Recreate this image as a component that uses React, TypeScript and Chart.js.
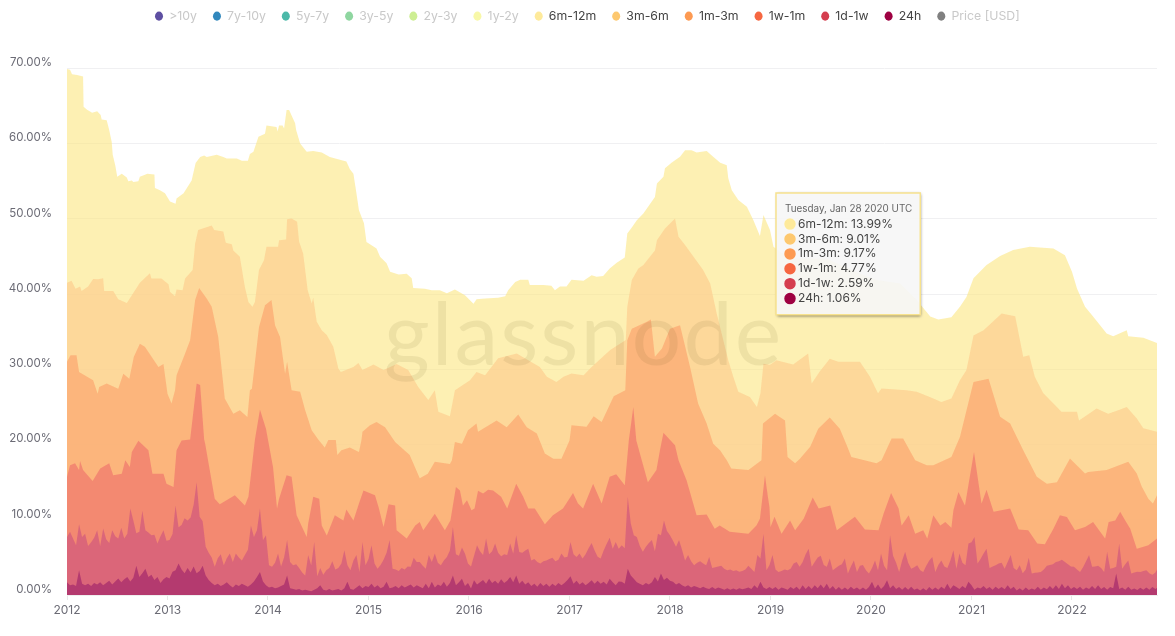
import React, { useEffect, useRef } from "react";
import { Chart, registerables, Tooltip } from "chart.js";

Chart.register(...registerables);

const FONT = "Inter, 'Noto Sans', sans-serif";

// Cumulative percentage of supply at the top of each band: [year, percent]
const top6m12m = [[2012,69.9],[2012.03,69.8],[2012.05,69.2],[2012.1,69.1],[2012.16,68.9],[2012.165,64.9],[2012.2,64.5],[2012.25,64.1],[2012.3,64.3],[2012.335,63.8],[2012.345,63.2],[2012.395,63.1],[2012.42,61.8],[2012.445,60.2],[2012.455,58.5],[2012.48,57.1],[2012.5,55.6],[2012.545,56],[2012.595,55.5],[2012.61,55],[2012.645,55.1],[2012.66,54.9],[2012.71,55],[2012.725,55.6],[2012.8,56],[2012.87,55.9],[2012.875,54.1],[2012.925,53.8],[2012.975,53.4],[2013.025,52.3],[2013.08,52],[2013.09,52.7],[2013.16,53.4],[2013.24,55.1],[2013.28,57.4],[2013.325,58.2],[2013.365,58.4],[2013.39,58.2],[2013.49,58.5],[2013.555,58.2],[2013.59,58],[2013.69,58],[2013.74,57.7],[2013.8,57.7],[2013.82,58.6],[2013.855,58.9],[2013.905,60.9],[2013.97,61.3],[2013.985,62.4],[2014.085,62.2],[2014.095,61.6],[2014.11,62.4],[2014.145,62.4],[2014.16,62],[2014.185,64.45],[2014.21,64.45],[2014.27,62.7],[2014.28,61.8],[2014.32,60],[2014.385,58.9],[2014.45,59],[2014.535,58.8],[2014.615,58.2],[2014.78,57.6],[2014.815,56.6],[2014.85,56],[2014.88,53.4],[2014.905,51.15],[2014.955,49.4],[2014.98,46.9],[2015.08,46.05],[2015.115,44.95],[2015.18,44.1],[2015.215,42.95],[2015.3,42.6],[2015.38,42.7],[2015.43,42.1],[2015.445,40.8],[2015.56,40.7],[2015.63,40.5],[2015.71,40.5],[2015.78,40.1],[2015.86,40.6],[2015.96,39.85],[2016.045,38.7],[2016.075,39.3],[2016.16,39.4],[2016.29,39.5],[2016.36,39.7],[2016.39,40.5],[2016.46,41.6],[2016.51,41.9],[2016.59,41.9],[2016.605,41.2],[2016.74,41.2],[2016.82,41.1],[2016.855,40.5],[2016.905,41],[2016.97,41],[2017.02,41.9],[2017.14,41.75],[2017.22,42.5],[2017.27,42.3],[2017.335,42.4],[2017.4,43.4],[2017.47,44.15],[2017.55,44.85],[2017.575,48.05],[2017.62,48.85],[2017.67,49.8],[2017.735,50.7],[2017.85,52.9],[2017.87,54.7],[2017.935,55.6],[2017.95,56.7],[2018.015,57.45],[2018.1,58.25],[2018.15,59.1],[2018.215,59.1],[2018.265,58.8],[2018.365,59],[2018.43,58.25],[2018.5,57.45],[2018.565,57.1],[2018.58,55.4],[2018.615,53.8],[2018.68,52.5],[2018.765,51.6],[2018.83,49.8],[2018.895,47.7],[2018.93,50.5],[2018.995,48.5],[2019.03,46.3],[2019.095,45.6],[2019.225,44.7],[2019.56,44.7],[2019.89,42.7],[2020.055,41.85],[2020.29,41.4],[2020.455,39.2],[2020.59,37],[2020.67,36.6],[2020.8,36.9],[2020.885,38.3],[2020.95,39.6],[2021.02,42.1],[2021.15,43.85],[2021.285,45.05],[2021.415,45.85],[2021.58,46.3],[2021.815,46.05],[2021.93,45.15],[2022,42.95],[2022.05,40.75],[2022.13,38.3],[2022.21,37],[2022.345,34.75],[2022.41,34.4],[2022.545,35.2],[2022.56,34.4],[2022.71,34.2],[2022.846,33.5]];

const top3m6m = [[2012,41.5],[2012.045,41.75],[2012.085,40.7],[2012.13,41],[2012.145,40.4],[2012.21,41],[2012.26,42],[2012.31,41.95],[2012.36,42.1],[2012.37,40.4],[2012.46,40.4],[2012.51,39.3],[2012.595,38.8],[2012.645,39.85],[2012.725,41.5],[2012.825,42.75],[2012.84,42.05],[2012.94,42.05],[2013.01,41.3],[2013.025,40.3],[2013.075,39.7],[2013.09,40.6],[2013.15,40.5],[2013.175,42.05],[2013.25,43.2],[2013.275,46.7],[2013.305,48.5],[2013.44,49.1],[2013.465,48.5],[2013.555,48.3],[2013.58,46.8],[2013.64,46.6],[2013.655,45.8],[2013.72,44.95],[2013.77,40.95],[2013.805,38.95],[2013.845,38.3],[2013.87,38.95],[2013.91,43.2],[2013.96,44.5],[2013.985,46.3],[2014.1,46.3],[2014.11,47.15],[2014.18,47.25],[2014.19,49.95],[2014.235,50.05],[2014.29,49.6],[2014.31,46.95],[2014.35,45.4],[2014.395,40.5],[2014.435,38.75],[2014.45,39.55],[2014.485,36.3],[2014.535,35.2],[2014.585,34.55],[2014.65,33],[2014.7,30.1],[2014.725,29.65],[2014.85,30.3],[2014.9,30.85],[2014.94,29.9],[2015.05,30.65],[2015.15,29.9],[2015.28,30.7],[2015.395,29.9],[2015.495,27.65],[2015.595,25.9],[2015.66,27.2],[2015.695,24.35],[2015.81,23.75],[2015.86,27.2],[2016.01,28.55],[2016.075,29.65],[2016.16,29.2],[2016.29,31.45],[2016.475,32.1],[2016.705,30.3],[2016.775,29],[2016.87,28.3],[2016.94,29],[2017.02,29.45],[2017.14,29.2],[2017.22,30.3],[2017.405,32.55],[2017.56,33.9],[2017.575,38.3],[2017.62,41.85],[2017.685,43.4],[2017.735,43.85],[2017.85,45.8],[2017.87,47.15],[2017.95,48.7],[2018.05,50.05],[2018.085,47.6],[2018.15,46.5],[2018.33,43.2],[2018.4,41.4],[2018.465,37.4],[2018.58,31.2],[2018.63,29],[2018.68,27],[2018.795,26.3],[2018.865,25],[2018.9,26.8],[2018.93,30.75],[2018.995,30.6],[2019.06,31.2],[2019.225,30.65],[2019.375,32.1],[2019.41,28.1],[2019.49,29.7],[2019.59,31.4],[2019.675,31],[2019.89,31],[2019.99,29],[2020.07,26.8],[2020.105,27.45],[2020.355,27.2],[2020.455,27],[2020.585,26.3],[2020.7,25.65],[2020.8,26.1],[2020.885,28.55],[2020.95,29.9],[2021.02,34.5],[2021.12,35.2],[2021.3,37.4],[2021.435,37.05],[2021.515,31.65],[2021.575,31.85],[2021.63,29],[2021.715,26.8],[2021.85,25],[2021.895,24.35],[2022.05,24.35],[2022.07,23.2],[2022.245,24.8],[2022.36,24.1],[2022.46,24.55],[2022.545,25],[2022.645,23.45],[2022.71,22.15],[2022.846,21.7]];

const top1m3m = [[2012,31],[2012.035,31.85],[2012.095,31.85],[2012.12,29.65],[2012.26,28.55],[2012.305,26.75],[2012.32,27.65],[2012.395,28.1],[2012.51,27.4],[2012.56,29.4],[2012.62,28.75],[2012.665,31.65],[2012.725,33.4],[2012.775,33],[2012.875,31],[2012.91,30.3],[2012.96,30.7],[2013,26.75],[2013.04,25.45],[2013.075,27.2],[2013.09,29.2],[2013.175,32.1],[2013.225,33.85],[2013.275,39.2],[2013.315,40.8],[2013.39,39.4],[2013.44,38.3],[2013.505,34.3],[2013.57,26.1],[2013.655,24.1],[2013.72,24.55],[2013.795,23.65],[2013.82,27.2],[2013.84,27.4],[2013.91,35.6],[2013.97,38.5],[2014.035,39.2],[2014.07,35.85],[2014.12,34.3],[2014.17,29.4],[2014.19,31],[2014.235,27.2],[2014.32,27],[2014.37,24.55],[2014.435,21.9],[2014.5,20.65],[2014.565,19.6],[2014.6,20.6],[2014.675,20.6],[2014.69,18.6],[2014.73,19.25],[2014.815,19.6],[2014.905,19],[2014.93,20.6],[2014.94,21.7],[2015.015,22.55],[2015.08,23],[2015.165,22.3],[2015.265,20.35],[2015.41,18.6],[2015.51,15.5],[2015.59,16.1],[2015.66,17.7],[2015.81,17.4],[2015.83,17.9],[2015.86,20.35],[2015.93,20.1],[2015.99,21.9],[2016.075,22.8],[2016.09,21.7],[2016.275,23.2],[2016.375,22.3],[2016.49,24],[2016.575,22.3],[2016.675,21.45],[2016.755,18.8],[2016.84,18.1],[2016.92,18.1],[2017,20.55],[2017.02,22.55],[2017.17,22.35],[2017.24,23.75],[2017.32,23],[2017.39,25],[2017.44,26.4],[2017.555,27.2],[2017.575,33.85],[2017.62,35.4],[2017.77,36.3],[2017.81,36.6],[2017.85,31.65],[2017.92,32.75],[2018,35.4],[2018.1,35.85],[2018.2,30.3],[2018.28,25.45],[2018.365,22.8],[2018.43,20.1],[2018.5,19.2],[2018.565,17.9],[2018.61,16.8],[2018.78,16.6],[2018.91,17.9],[2018.925,22.8],[2019.045,24.1],[2019.145,23.2],[2019.17,18.35],[2019.245,17.5],[2019.295,18.15],[2019.395,19.7],[2019.475,22.1],[2019.59,23.6],[2019.69,22.1],[2019.765,19.7],[2019.805,18.35],[2020.055,17.5],[2020.105,17.9],[2020.205,20.8],[2020.32,20.8],[2020.44,17.9],[2020.555,17.25],[2020.62,17.25],[2020.8,18.35],[2020.885,21],[2021.02,28.3],[2021.17,28.75],[2021.285,23.7],[2021.385,22.8],[2021.515,19.25],[2021.65,15.7],[2021.75,14.8],[2021.85,15],[2021.98,18.15],[2022.13,16.15],[2022.16,16.35],[2022.345,16.6],[2022.56,17.7],[2022.645,16.15],[2022.695,14.4],[2022.76,12.8],[2022.805,12.15],[2022.846,13.25]];

const top1w1m = [[2012,15.7],[2012.03,17.25],[2012.08,17.5],[2012.12,16.6],[2012.13,17.8],[2012.16,16.6],[2012.255,15.15],[2012.33,16.8],[2012.42,17.5],[2012.46,15.9],[2012.545,16.1],[2012.58,17.9],[2012.625,17],[2012.645,19],[2012.71,20.5],[2012.81,19.25],[2012.85,16.1],[2012.96,16.1],[2012.99,14.8],[2013.06,14.35],[2013.09,19.25],[2013.14,20.55],[2013.225,20.65],[2013.29,28.1],[2013.325,27.9],[2013.365,20.65],[2013.375,20.1],[2013.47,12.8],[2013.52,12.05],[2013.67,13.25],[2013.77,11.9],[2013.805,13.05],[2013.87,20.65],[2013.92,24.65],[2013.98,22.1],[2014.05,17],[2014.09,11.5],[2014.11,12.8],[2014.185,15.9],[2014.235,15.7],[2014.285,10.6],[2014.385,7.7],[2014.4,9.5],[2014.45,13.05],[2014.51,12.8],[2014.535,9.25],[2014.585,7.9],[2014.665,10.6],[2014.75,9.9],[2014.78,11.35],[2014.85,9.9],[2014.905,12.15],[2014.95,13.9],[2015.065,13.25],[2015.1,11.7],[2015.15,9.05],[2015.2,12.05],[2015.265,11.9],[2015.28,8.6],[2015.38,7.5],[2015.465,9.25],[2015.51,9.7],[2015.545,8.6],[2015.66,10.8],[2015.76,8.6],[2015.815,9.9],[2015.87,14.35],[2015.91,13.9],[2015.94,11.9],[2015.98,12.6],[2016.025,11.25],[2016.055,11.5],[2016.09,13.85],[2016.14,13.5],[2016.19,14],[2016.24,13.9],[2016.32,13.05],[2016.38,11.5],[2016.47,14.8],[2016.54,13.05],[2016.59,11.5],[2016.655,11.5],[2016.755,9.4],[2016.835,10.6],[2016.935,11.5],[2017.035,13.55],[2017.085,12.15],[2017.135,11.5],[2017.235,14.8],[2017.32,12.15],[2017.4,15.7],[2017.465,16.05],[2017.55,14.6],[2017.59,20.55],[2017.635,25],[2017.665,20.55],[2017.78,15],[2017.865,16.6],[2017.9,19.25],[2017.935,21.55],[2018.05,19.9],[2018.085,17.9],[2018.165,15.25],[2018.265,10.6],[2018.365,10.7],[2018.445,8.8],[2018.495,9.25],[2018.595,8.4],[2018.78,8.15],[2018.86,9.25],[2018.895,10.15],[2018.945,15.9],[2018.975,13],[2018.99,11.7],[2019,9.05],[2019.04,10.4],[2019.11,8.15],[2019.195,9.9],[2019.245,8.6],[2019.33,10.15],[2019.42,12.95],[2019.48,11.5],[2019.595,11.9],[2019.66,8.6],[2019.84,10.4],[2019.94,8.7],[2020.075,8.6],[2020.125,10.8],[2020.2,13.55],[2020.275,11.5],[2020.305,9.25],[2020.375,10.6],[2020.44,8.15],[2020.52,8.6],[2020.56,7.5],[2020.62,10.6],[2020.69,9.25],[2020.74,9.7],[2020.8,8.95],[2020.82,11.25],[2020.87,13.7],[2020.935,11.9],[2021.025,19],[2021.1,12.15],[2021.15,14],[2021.22,11.05],[2021.385,11.5],[2021.47,8.7],[2021.565,8.6],[2021.655,6.85],[2021.73,6.75],[2021.815,8.8],[2021.88,10.6],[2021.95,10.35],[2022.03,8.6],[2022.13,9.05],[2022.21,9.7],[2022.33,7.5],[2022.365,9.7],[2022.43,9.9],[2022.48,11.05],[2022.53,9.9],[2022.58,8.8],[2022.645,6.15],[2022.76,6.6],[2022.846,7.5]];

// The two lowest bands are read on a fine date grid of fineStep years from 2012.
const fineStart = 2012;
const fineStep = 0.03;
const top1d1wValues = [
  7.7,8.4,7.5,6.6,9.4,7.7,8.15,6.5,7,7.6,8.6,6.5,8.85,7.4,6.9,8.6,7.8,7.5,8.95,7.5,8.15,11.5,9.9,8.2,8.4,11.2,8.6,8.3,7.95,8,6.85,7.8,8.6,7.2,
  7.3,8.1,11.9,9,9.3,10.2,9.9,10.3,12,15,10.4,9.8,6.4,5.6,5,3.75,4.9,5.4,3.95,4.9,5.5,4.4,5.5,5,4.6,5.3,6,9.25,7.7,8.6,11.5,7.3,7.95,
  3.95,3.75,4.3,5.5,3.8,5,7.3,4.4,3.95,4.1,3.6,3,2.6,5.3,3.95,7.05,2.5,3.6,2.7,3.3,3.6,4.5,3.4,3.6,4.2,5.95,4,3.3,4.6,5.3,3.05,7.05,3.95,4.8,
  6.6,4.2,3.5,4,4.7,5.6,7.3,3.5,3.4,3.2,3.6,3.4,3.8,3.75,4.95,4.4,4.4,3.9,3.5,5.3,4.4,5.5,4.3,3.95,4.6,5.05,5.9,9.05,5.4,5.2,6.3,5.5,4.2,
  3.8,5.2,6.6,5.8,5.3,7.5,5.4,5.8,6.85,5.6,5.15,5.4,5.3,6.85,5.5,7.95,5.7,5.6,5.9,6.15,4.6,4.8,4.4,4.2,4.5,4.6,4.8,4.95,4.5,4.7,5.5,5,5.1,
  7.05,5.4,5.05,5.5,4.85,5.4,6.2,6.9,5.9,5.1,4.85,5.9,6.8,7.6,6.15,7.05,6.15,6.6,6.2,13.05,9.5,7.95,7.7,6.5,5.75,6.4,6.9,7.3,5.8,8.15,7.95,9.9,8.5,
  7.95,7.2,6.4,7.3,6,4.6,5.3,4.5,3.95,4.3,4.5,4.2,3.95,5.05,3.6,3.7,3.8,3.9,3.5,3.3,3.4,3.2,3.3,3.1,3.2,3.4,3.9,3.5,3.05,5.3,4.85,8.15,3.3,4,
  5.3,3.4,3.05,3.2,3.4,3.3,3.5,4.2,4.4,3.75,4.4,5.4,6.15,3.75,4.4,5,5.2,4,3.75,4.85,3.3,3.6,3.9,4.1,4.85,2.85,3.8,4.6,3.05,3.9,4,3.3,2.85,
  3.6,4.6,3.3,5.5,3.9,3.3,7.95,5.2,4.3,3.05,4.6,5.75,4.3,3.5,3.7,3.95,3.3,3.05,3.9,4.6,5.05,3.05,4,4.6,3.8,3.6,4.6,5.95,3.5,5.5,4.3,3.95,6.85,
  7,7.7,4.2,4.8,5.5,6.15,3.6,3.8,3.95,4.2,4.3,3.5,4.4,5.3,3.6,3.3,3.95,2.9,3.4,4.95,2.85,2.95,3,3.05,3.4,3.9,4,4.1,4.4,4.5,4.7,4.4,4.1,3.8,
  3.75,3.4,3.05,3.7,4.5,5.3,3.75,3.8,3.9,3.6,3.05,5.75,3.5,3.6,3.75,6.85,3.5,4.1,4.6,2.85,3,3.1,3.05,3.2,3.3,2.9,2.7,3,3.75,
];
const top24hValues = [
  1.7,1.3,1.4,1.2,3.3,1.5,1.3,1.5,1.2,1.6,1.4,1.7,1.3,1.6,1.9,1.4,1.8,2.2,1.7,2.1,2.4,1.8,2.3,3.9,2.4,2.9,3.5,2.4,2.7,2,2.4,1.6,2.1,2.4,
  2.2,3.1,3.3,4.2,3.4,2.9,3.6,3,3.8,2.9,3.2,3.9,2.6,2,1.6,1.3,1.5,1.2,1.4,1.7,1.3,1,1.4,1.2,1.5,1.3,1.1,1.4,1.8,2.4,3.05,1.8,1.3,
  1,1.1,0.9,1,1.2,1.4,2.6,0.9,0.8,0.7,0.8,0.6,0.7,0.6,0.5,0.7,0.9,1.3,0.7,0.6,0.8,0.6,0.7,0.8,0.6,0.9,1.75,0.8,0.7,1,1.3,0.9,1.2,1.05,
  1.5,1,1.3,0.9,1.1,1.75,0.9,1,1.2,0.9,1.3,1,1.2,1.4,1,1.3,1.1,0.9,1.5,0.9,1.75,1,1.4,1.2,1.75,1.1,1.6,2.6,1.3,1.7,2.15,1.2,1.6,
  0.85,1.95,1.4,1.7,2,1.5,2.15,1.6,1.9,1.5,2.1,1.6,1.9,2.4,1.7,2.6,1.5,1.9,1.4,1.7,1.2,1.5,1.1,1.6,1.2,1.5,1.1,1.5,1.2,1.6,1.3,1.6,2,
  2.5,1.5,1.9,1.4,1.7,1.3,1.6,1.95,1.5,1.9,1.5,1.75,1.4,2.15,1.7,1.3,1.8,1.75,1.5,3.5,2.6,2.15,1.7,1.5,1.3,1.6,1.4,1.7,2.4,1.8,2.85,2,2.3,
  1.9,1.75,1.4,1.6,1.3,1.1,1.3,1,1.2,1.05,0.9,1.1,0.9,0.8,1.05,0.8,1,0.85,0.7,0.9,0.7,0.85,0.7,0.9,0.75,0.85,1,0.8,1.3,0.9,1.75,1,0.8,1.05,
  0.8,1.05,0.7,1,0.85,0.7,1.05,0.8,1.1,0.7,1.3,0.8,1.2,0.8,1.3,0.9,1.4,0.9,1.5,0.8,1.2,0.7,1.05,0.7,1,0.7,1.1,0.75,1,0.7,1,0.7,1.05,
  1.75,0.85,1.4,0.8,1.2,1.95,0.9,1.3,0.8,1.05,0.7,1.05,0.7,1.1,0.7,0.85,0.6,0.9,0.6,1.05,0.7,1,0.7,1.1,0.8,1.5,0.8,1.3,1.05,0.8,1.2,0.9,1.75,
  1.3,0.7,1,0.85,1.2,0.8,1.05,0.7,1.1,0.8,1.05,0.75,1.3,0.8,1.1,0.6,0.9,0.6,1,0.65,0.85,0.7,1.1,0.7,1,0.75,1.2,0.8,1.3,0.8,1.5,0.9,1.3,0.8,
  1.05,0.8,1.1,0.7,1,0.8,1.2,0.8,1.3,0.8,1.05,0.7,1.05,0.9,2.85,0.8,1,0.7,1.1,0.7,0.85,0.65,0.95,0.7,1,0.7,1.05,0.8,1.05,
];
const onFineGrid = (values: number[]) => values.map((v, i) => [fineStart + i * fineStep, v]);

const seriesNames = [">10y","7y-10y","5y-7y","3y-5y","2y-3y","1y-2y","6m-12m","3m-6m","1m-3m","1w-1m","1d-1w","24h","Price [USD]"];
const legendColors = ["#5e4fa2","#3288bd","#4cb9a9","#8fd6a0","#cdee93","#f8f8a8","#feea9b","#fdc86f","#fd9a52","#f66741","#d53e4f","#9e0142","#808080"];
const hiddenFlags = [true,true,true,true,true,true,false,false,false,false,false,false,true];
const fillColors: Record<string,string> = {
  "6m-12m":"rgba(252,230,128,0.6)","3m-6m":"rgba(253,200,139,0.6)","1m-3m":"rgba(251,158,105,0.6)",
  "1w-1m":"rgba(239,109,107,0.6)","1d-1w":"rgba(204,80,127,0.6)","24h":"rgba(153,28,105,0.6)",
};
const seriesData: Record<string,number[][]> = {
  "6m-12m":top6m12m,"3m-6m":top3m6m,"1m-3m":top1m3m,"1w-1m":top1w1m,
  "1d-1w":onFineGrid(top1d1wValues),"24h":onFineGrid(top24hValues),
};
const tooltipTitle = "Tuesday, Jan 28 2020 UTC";
const tooltipYear = 2020.07;
const tooltipSeries = ["6m-12m","3m-6m","1m-3m","1w-1m","1d-1w","24h"];
const tooltipValues = ["13.99%","9.01%","9.17%","4.77%","2.59%","1.06%"];
const yearMin = 2012, yearMax = 2022.846;
const percentMax = 70, percentStep = 10;

(Tooltip.positioners as any).fixedBox = () => ({ x: 776, y: 193 });

const decorations = {
  id: "decorations",
  afterLayout(chart: any) {
    chart.legend.left = 139;
    chart.legend.top -= 36;
  },
  afterDatasetsDraw(chart: any) {
    const { ctx } = chart;
    ctx.save();
    ctx.font = `400 88px Lato, ${FONT}`;
    (ctx as any).letterSpacing = "2px";
    ctx.fillStyle = "rgba(60,50,0,0.08)";
    ctx.textAlign = "left";
    ctx.textBaseline = "alphabetic";
    ctx.fillText("glassnode", 384, 365);
    ctx.restore();
  },
  beforeTooltipDraw(chart: any) {
    const t = chart.tooltip;
    const { ctx } = chart;
    ctx.save();
    ctx.beginPath();
    ctx.rect(0, 0, chart.width, chart.height);
    ctx.rect(t.x, t.y, t.width, t.height);
    ctx.clip("evenodd");
    ctx.shadowColor = "rgba(0,0,0,0.55)";
    ctx.shadowBlur = 3;
    ctx.shadowOffsetX = 1;
    ctx.shadowOffsetY = 1;
    ctx.fillStyle = "#f6f6f6";
    ctx.fillRect(t.x, t.y, t.width, t.height);
    ctx.restore();
  },
};

export default function App() {
  const ref = useRef<HTMLCanvasElement>(null);
  useEffect(() => {
    const chart = new Chart(ref.current as HTMLCanvasElement, {
      type: "line",
      plugins: [decorations],
      data: {
        datasets: seriesNames.map((name, i) => ({
          label: name,
          data: (seriesData[name] || []).map(([x, y]) => ({ x, y })),
          backgroundColor: fillColors[name] || legendColors[i],
          borderWidth: 0,
          pointRadius: 0,
          fill: "origin",
          tension: 0,
          hidden: false,
          order: seriesNames.length - i,
        })),
      },
      options: {
        animation: false,
        responsive: false,
        events: [],
        layout: { padding: { left: 0, right: 18, top: 30, bottom: 0 } },
        plugins: {
          legend: {
            position: "top",
            align: "start",
            onClick: () => {},
            labels: {
              usePointStyle: true,
              pointStyleWidth: 8,
              boxHeight: 6.4,
              padding: 16,
              font: { family: FONT, size: 12.3, weight: "400" },
              generateLabels: () =>
                seriesNames.map((name, i) => ({
                  text: name,
                  fillStyle: legendColors[i],
                  strokeStyle: legendColors[i],
                  fontColor: hiddenFlags[i] ? "#c9c9c9" : "#444",
                  lineWidth: 0,
                  pointStyle: "circle",
                  hidden: false,
                  datasetIndex: i,
                })),
            },
          },
          tooltip: {
            enabled: true,
            position: "fixedBox" as any,
            xAlign: "left",
            yAlign: "top",
            caretSize: 0,
            caretPadding: 0,
            cornerRadius: 0,
            backgroundColor: "rgba(246,246,246,0.92)",
            borderColor: "#f7e28e",
            borderWidth: 1.5,
            padding: { left: 9, right: 8, top: 10, bottom: 9 },
            titleColor: "#666",
            titleFont: { family: FONT, size: 9.9, weight: "400" },
            titleMarginBottom: 2,
            bodyColor: "#444",
            bodyFont: { family: FONT, size: 12, weight: "400" },
            bodySpacing: 0.5,
            usePointStyle: true,
            boxWidth: 10,
            boxHeight: 10,
            boxPadding: 1,
            itemSort: (a: any, b: any) => a.datasetIndex - b.datasetIndex,
            callbacks: {
              title: () => tooltipTitle,
              label: (c: any) => `${c.dataset.label}: ${tooltipValues[tooltipSeries.indexOf(c.dataset.label)]}`,
              labelColor: (c: any) => ({
                borderColor: legendColors[c.datasetIndex],
                backgroundColor: legendColors[c.datasetIndex],
              }),
              labelPointStyle: () => ({ pointStyle: "circle", rotation: 0 }),
            },
          },
        },
        scales: {
          x: {
            type: "linear",
            min: yearMin,
            max: yearMax,
            afterFit: (s: any) => { s.height = 41; },
            border: { color: "#efefef" },
            grid: { drawOnChartArea: false, drawTicks: true, tickLength: 5, color: "#e8e8e8" },
            ticks: {
              stepSize: 1,
              includeBounds: false,
              autoSkip: false,
              maxRotation: 0,
              padding: 3,
              color: "#6b6b75",
              font: { family: FONT, size: 12 },
              callback: (v: any) => (Number.isInteger(v) ? String(v) : ""),
            },
          },
          y: {
            min: 0,
            max: percentMax,
            afterFit: (s: any) => { s.width = 67; },
            border: { display: false },
            grid: { color: "#f0f0f2", drawTicks: false },
            ticks: {
              stepSize: percentStep,
              padding: 15,
              labelOffset: -5.5,
              color: "#6b6b75",
              font: { family: FONT, size: 11.5 },
              callback: (v: any) => `${Number(v).toFixed(2)}%`,
            },
          },
        },
      } as any,
    } as any);

    const active = tooltipSeries.map((name) => {
      const datasetIndex = seriesNames.indexOf(name);
      const pts = seriesData[name];
      let index = 0;
      pts.forEach((p, j) => {
        if (Math.abs(p[0] - tooltipYear) < Math.abs(pts[index][0] - tooltipYear)) index = j;
      });
      return { datasetIndex, index };
    });
    chart.tooltip!.setActiveElements(active, { x: 776, y: 193 });
    chart.update();
    return () => chart.destroy();
  }, []);

  return (
    <div style={{ position: "fixed", left: 0, top: 0, width: 1175, height: 636, background: "#fff" }}>
      <canvas ref={ref} width={1175} height={636} style={{ display: "block" }} />
    </div>
  );
}
